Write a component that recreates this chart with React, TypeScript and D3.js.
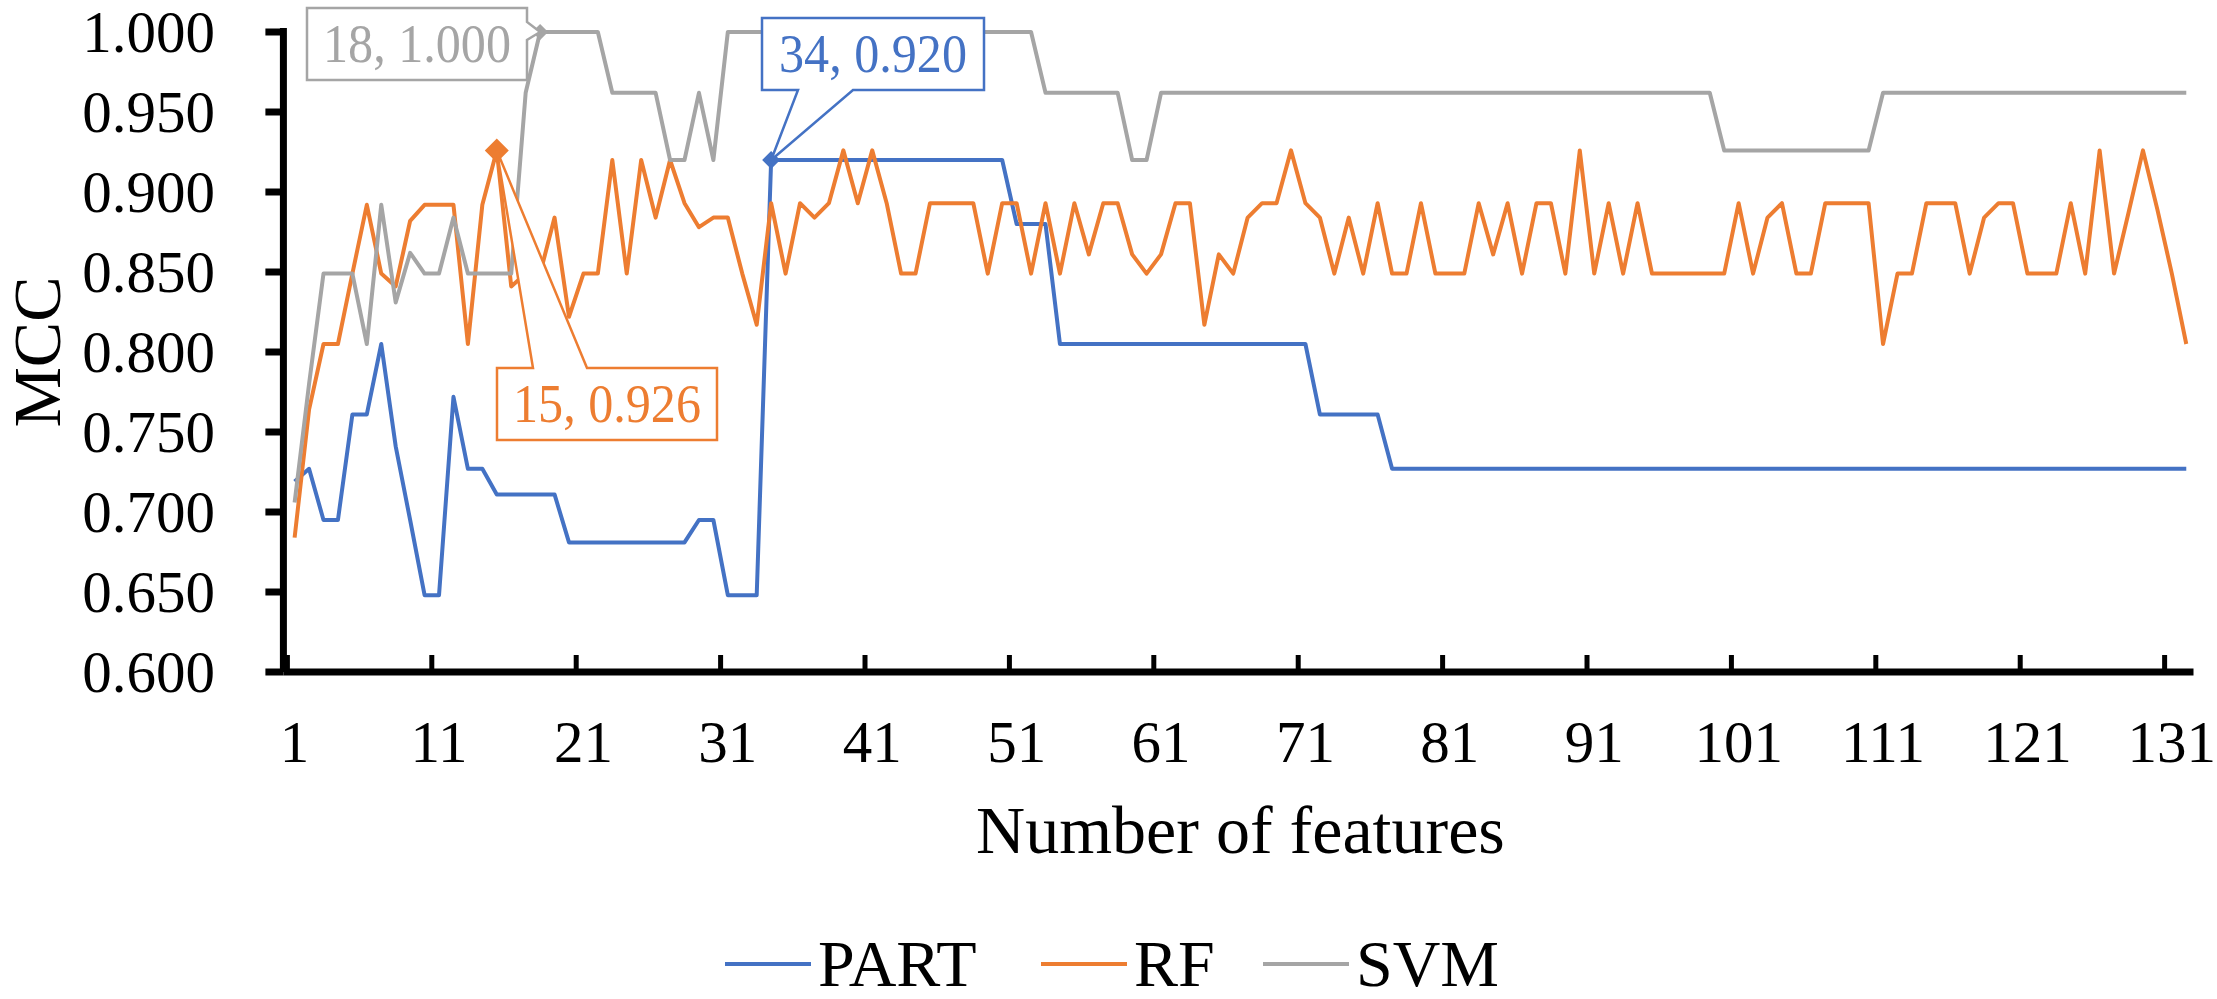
import * as d3 from 'd3';

// MCC per number of selected features (1..132)
const PART = [
  0.719, 0.727, 0.695, 0.695, 0.761, 0.761, 0.805, 0.741, 0.695, 0.648,
  0.648, 0.772, 0.727, 0.727, 0.711, 0.711, 0.711, 0.711, 0.711, 0.681,
  0.681, 0.681, 0.681, 0.681, 0.681, 0.681, 0.681, 0.681, 0.695, 0.695,
  0.648, 0.648, 0.648, 0.920, 0.920, 0.920, 0.920, 0.920, 0.920, 0.920,
  0.920, 0.920, 0.920, 0.920, 0.920, 0.920, 0.920, 0.920, 0.920, 0.920,
  0.880, 0.880, 0.880, 0.805, 0.805, 0.805, 0.805, 0.805, 0.805, 0.805,
  0.805, 0.805, 0.805, 0.805, 0.805, 0.805, 0.805, 0.805, 0.805, 0.805,
  0.805, 0.761, 0.761, 0.761, 0.761, 0.761, 0.727, 0.727, 0.727, 0.727,
  0.727, 0.727, 0.727, 0.727, 0.727, 0.727, 0.727, 0.727, 0.727, 0.727,
  0.727, 0.727, 0.727, 0.727, 0.727, 0.727, 0.727, 0.727, 0.727, 0.727,
  0.727, 0.727, 0.727, 0.727, 0.727, 0.727, 0.727, 0.727, 0.727, 0.727,
  0.727, 0.727, 0.727, 0.727, 0.727, 0.727, 0.727, 0.727, 0.727, 0.727,
  0.727, 0.727, 0.727, 0.727, 0.727, 0.727, 0.727, 0.727, 0.727, 0.727,
  0.727, 0.727,
];

const RF = [
  0.684, 0.764, 0.805, 0.805, 0.849, 0.892, 0.849, 0.841, 0.882, 0.892,
  0.892, 0.892, 0.805, 0.892, 0.926, 0.841, 0.849, 0.849, 0.884, 0.822,
  0.849, 0.849, 0.920, 0.849, 0.920, 0.884, 0.920, 0.893, 0.878, 0.884,
  0.884, 0.849, 0.817, 0.893, 0.849, 0.893, 0.884, 0.893, 0.926, 0.893,
  0.926, 0.893, 0.849, 0.849, 0.893, 0.893, 0.893, 0.893, 0.849, 0.893,
  0.893, 0.849, 0.893, 0.849, 0.893, 0.861, 0.893, 0.893, 0.861, 0.849,
  0.861, 0.893, 0.893, 0.817, 0.861, 0.849, 0.884, 0.893, 0.893, 0.926,
  0.893, 0.884, 0.849, 0.884, 0.849, 0.893, 0.849, 0.849, 0.893, 0.849,
  0.849, 0.849, 0.893, 0.861, 0.893, 0.849, 0.893, 0.893, 0.849, 0.926,
  0.849, 0.893, 0.849, 0.893, 0.849, 0.849, 0.849, 0.849, 0.849, 0.849,
  0.893, 0.849, 0.884, 0.893, 0.849, 0.849, 0.893, 0.893, 0.893, 0.893,
  0.805, 0.849, 0.849, 0.893, 0.893, 0.893, 0.849, 0.884, 0.893, 0.893,
  0.849, 0.849, 0.849, 0.893, 0.849, 0.926, 0.849, 0.887, 0.926, 0.889,
  0.849, 0.805,
];

const SVM = [
  0.706, 0.780, 0.849, 0.849, 0.849, 0.805, 0.892, 0.831, 0.862, 0.849,
  0.849, 0.884, 0.849, 0.849, 0.849, 0.849, 0.962, 1.000, 1.000, 1.000,
  1.000, 1.000, 0.962, 0.962, 0.962, 0.962, 0.920, 0.920, 0.962, 0.920,
  1.000, 1.000, 1.000, 1.000, 1.000, 1.000, 1.000, 1.000, 1.000, 1.000,
  1.000, 1.000, 1.000, 1.000, 1.000, 1.000, 1.000, 1.000, 1.000, 1.000,
  1.000, 1.000, 0.962, 0.962, 0.962, 0.962, 0.962, 0.962, 0.920, 0.920,
  0.962, 0.962, 0.962, 0.962, 0.962, 0.962, 0.962, 0.962, 0.962, 0.962,
  0.962, 0.962, 0.962, 0.962, 0.962, 0.962, 0.962, 0.962, 0.962, 0.962,
  0.962, 0.962, 0.962, 0.962, 0.962, 0.962, 0.962, 0.962, 0.962, 0.962,
  0.962, 0.962, 0.962, 0.962, 0.962, 0.962, 0.962, 0.962, 0.962, 0.926,
  0.926, 0.926, 0.926, 0.926, 0.926, 0.926, 0.926, 0.926, 0.926, 0.926,
  0.962, 0.962, 0.962, 0.962, 0.962, 0.962, 0.962, 0.962, 0.962, 0.962,
  0.962, 0.962, 0.962, 0.962, 0.962, 0.962, 0.962, 0.962, 0.962, 0.962,
  0.962, 0.962,
];

const Y_TICKS = [0.6, 0.65, 0.7, 0.75, 0.8, 0.85, 0.9, 0.95, 1.0];
const X_TICK_LABELS = [1, 11, 21, 31, 41, 51, 61, 71, 81, 91, 101, 111, 121, 131];

const SERIES = [
  { name: 'PART', values: PART, color: '#4472C4' },
  { name: 'RF', values: RF, color: '#ED7D31' },
  { name: 'SVM', values: SVM, color: '#A5A5A5' },
];

// highlighted maxima with their callout boxes
const CALLOUTS = [
  { series: 'SVM', index: 18, box: [307, 8, 220, 72], side: 'right', base: [22, 40], r: 8 },
  { series: 'RF', index: 15, box: [497, 368, 220, 72], side: 'top', base: [533, 587], r: 12 },
  { series: 'PART', index: 34, box: [762, 18, 222, 72], side: 'bottom', base: [798, 853], r: 9 },
];

const FONT = "'Liberation Serif', 'Times New Roman', serif";

export default function App() {
  const width = 2217;
  const height = 999;
  const left = 287.4;
  const right = 2193.5;
  const top = 32;
  const bottom = 672;

  const categories = d3.range(1, PART.length + 1);
  const x = d3.scaleBand<number>().domain(categories).range([left, right]);
  const cx = (k: number) => (x(k) ?? 0) + x.bandwidth() / 2;
  const y = d3.scaleLinear().domain([0.6, 1]).range([bottom, top]);

  const line = d3
    .line<number>()
    .x((_, i) => cx(i + 1))
    .y((v) => y(v));

  const calloutPath = (c: (typeof CALLOUTS)[number], tx: number, ty: number) => {
    const [x0, y0, w, h] = c.box;
    const [a, b] = c.base;
    if (c.side === 'right')
      return `M${x0},${y0}H${x0 + w}V${a}L${tx},${ty}L${x0 + w},${b}V${y0 + h}H${x0}Z`;
    if (c.side === 'top')
      return `M${x0},${y0}H${a}L${tx},${ty}L${b},${y0}H${x0 + w}V${y0 + h}H${x0}Z`;
    return `M${x0},${y0}H${x0 + w}V${y0 + h}H${b}L${tx},${ty}L${a},${y0 + h}H${x0}Z`;
  };

  const legendItems = [
    { name: 'PART', x: 725 },
    { name: 'RF', x: 1041 },
    { name: 'SVM', x: 1263 },
  ];
  const legendY = 964;

  return (
    <svg
      width={width}
      height={height}
      style={{ position: 'absolute', left: 0, top: 0, background: '#fff' }}
      fontFamily={FONT}
    >
      <rect width={width} height={height} fill="#fff" />

      {/* Y axis */}
      <line x1={left - 4} x2={left - 4} y1={top - 4} y2={bottom} stroke="#000" strokeWidth={7} />
      {Y_TICKS.map((t) => (
        <g key={t}>
          <line x1={left - 22} x2={left - 4} y1={y(t)} y2={y(t)} stroke="#000" strokeWidth={7} />
          <text x={215} y={y(t)} dy="0.34em" textAnchor="end" fontSize={59} fill="#000">
            {t.toFixed(3)}
          </text>
        </g>
      ))}
      <text
        transform={`translate(60,${(top + bottom) / 2}) rotate(-90)`}
        textAnchor="middle"
        fontSize={68}
        fill="#000"
      >
        MCC
      </text>

      {/* X axis */}
      <line x1={left - 4} x2={right} y1={bottom} y2={bottom} stroke="#000" strokeWidth={7} />
      {X_TICK_LABELS.map((k) => (
        <g key={k}>
          <line x1={x(k)} x2={x(k)} y1={bottom} y2={bottom - 17} stroke="#000" strokeWidth={5} />
          <text x={cx(k)} y={762} textAnchor="middle" fontSize={59} fill="#000">
            {k}
          </text>
        </g>
      ))}
      <text x={(left + right) / 2} y={853} textAnchor="middle" fontSize={68} fill="#000">
        Number of features
      </text>

      {/* Series */}
      {SERIES.map((s) => (
        <path
          key={s.name}
          d={line(s.values) ?? ''}
          fill="none"
          stroke={s.color}
          strokeWidth={4}
          strokeLinejoin="round"
        />
      ))}

      {/* Callouts */}
      {CALLOUTS.map((c) => {
        const s = SERIES.find((d) => d.name === c.series)!;
        const v = s.values[c.index - 1];
        const tx = cx(c.index);
        const ty = y(v);
        const [x0, y0, w, h] = c.box;
        return (
          <g key={c.series}>
            <path
              d={`M${tx},${ty - c.r}L${tx + c.r},${ty}L${tx},${ty + c.r}L${tx - c.r},${ty}Z`}
              fill={s.color}
            />
            <path d={calloutPath(c, tx, ty)} fill="#fff" stroke={s.color} strokeWidth={2.5} />
            <text
              x={x0 + w / 2}
              y={y0 + h / 2}
              dy="0.34em"
              textAnchor="middle"
              fontSize={54}
              textLength={188}
              lengthAdjust="spacingAndGlyphs"
              fill={s.color}
            >
              {`${c.index}, ${v.toFixed(3)}`}
            </text>
          </g>
        );
      })}

      {/* Legend */}
      {legendItems.map((item) => {
        const s = SERIES.find((d) => d.name === item.name)!;
        return (
          <g key={item.name}>
            <line
              x1={item.x}
              x2={item.x + 86}
              y1={legendY}
              y2={legendY}
              stroke={s.color}
              strokeWidth={4}
            />
            <text x={item.x + 93} y={legendY} dy="0.34em" fontSize={66} fill="#000">
              {item.name}
            </text>
          </g>
        );
      })}
    </svg>
  );
}
